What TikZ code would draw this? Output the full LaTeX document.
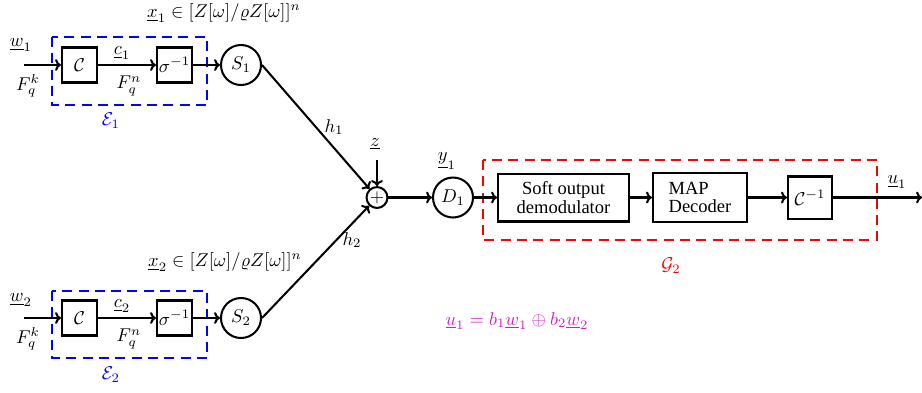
\documentclass[tikz,border=0pt]{standalone}
\usepackage{fontspec}
\newfontfamily\tnr{Liberation Serif}
\usetikzlibrary{arrows.meta}
\definecolor{mag}{RGB}{205,30,205}
\begin{document}
\begin{tikzpicture}[x=0.54pt,y=-0.54pt, line width=1.1pt,
  >={To[length=3.2pt,width=6.4pt]},
  blk/.style={draw, rectangle, inner sep=0pt},
  sbox/.style={blk, minimum width=18.9pt, minimum height=18.9pt},
  circ/.style={draw, circle, inner sep=0pt, minimum size=21.6pt},
  grp/.style={line width=1.5pt, dash pattern=on 5.4pt off 3.4pt},
  lbl/.style={inner sep=0pt}]
\useasboundingbox (0,0) rectangle (922,392);

% ---- top encoder
\coordinate (in1) at (24,65);
\node[sbox] (C1) at (79.5,65) {$\mathcal{C}$};
\node[sbox] (P1) at (174.5,65) {$\sigma^{-1}$};
\node[circ] (S1) at (241,65) {$S_1$};
\draw[grp, blue] (52,37) rectangle (207,105);
\draw[->] (in1) -- (C1);
\draw[->] (C1) -- (P1);
\draw[->] (P1) -- (S1);
\node[lbl] (w1) at (21,45) {$\underline{w}_1$};
\node[lbl] (fk1) at (28,86) {$F_q^k$};
\node[lbl] (c1) at (122,53) {$\underline{c}_1$};
\node[lbl] (fn1) at (129,86) {$F_q^n$};
\node[lbl, text=blue] (E1) at (111,121) {$\mathcal{E}_1$};
\node[lbl] (x1) at (224,13) {$\underline{x}_1\in[Z[\omega]/\varrho Z[\omega]]^n$};

% ---- bottom encoder
\coordinate (in2) at (24,318);
\node[sbox] (C2) at (79.5,318) {$\mathcal{C}$};
\node[sbox] (P2) at (174.5,318) {$\sigma^{-1}$};
\node[circ] (S2) at (241,318) {$S_2$};
\draw[grp, blue] (52,291) rectangle (207,358);
\draw[->] (in2) -- (C2);
\draw[->] (C2) -- (P2);
\draw[->] (P2) -- (S2);
\node[lbl] (w2) at (21,300) {$\underline{w}_2$};
\node[lbl] (fk2) at (28,339) {$F_q^k$};
\node[lbl] (c2) at (122,306) {$\underline{c}_2$};
\node[lbl] (fn2) at (129,339) {$F_q^n$};
\node[lbl, text=blue] (E2) at (111,375) {$\mathcal{E}_2$};
\node[lbl] (x2) at (225,262) {$\underline{x}_2\in[Z[\omega]/\varrho Z[\omega]]^n$};

% ---- channel
\node[draw, circle, inner sep=0pt, minimum size=11.3pt] (add) at (377,197.5) {$+$};
\coordinate (zin) at (377,160);
\node[lbl] (z) at (375,144) {$\underline{z}$};
\draw[->] (S1.east) -- (add);
\draw[->] (S2.east) -- (add);
\draw[->] (zin) -- (add);
\node[lbl] (h1) at (334,127) {$h_1$};
\node[lbl] (h2) at (352,240) {$h_2$};
\node[circ] (D1) at (453,197.5) {$D_1$};
\node[lbl] (y1) at (447,161) {$\underline{y}_1$};
\draw[->] (add) -- (D1);

% ---- decoder
\node[blk, minimum width=70.7pt, minimum height=25.9pt, align=center, font=\tnr] (soft) at (563.5,197.5) {Soft output\\[-2pt]demodulator};
\node[blk, minimum width=50.8pt, minimum height=26.5pt, align=left, font=\tnr] (map) at (700,197.5) {MAP\\[-2pt]Decoder};
\node[blk, minimum width=23.8pt, minimum height=22.7pt] (cinv) at (810,197.5) {$\mathcal{C}^{-1}$};
\coordinate (out) at (922,197.5);
\draw[grp, red] (483,160) rectangle (877,240);
\draw[->] (D1) -- (soft);
\draw[->] (soft) -- (map);
\draw[->] (map) -- (cinv);
\draw[->] (cinv) -- (out);
\node[lbl] (u1) at (897,182) {$\underline{u}_1$};
\node[lbl, text=red] (G2) at (671,266) {$\mathcal{G}_2$};
\node[lbl, text=mag] (eq) at (517,321) {$\underline{u}_1=b_1\underline{w}_1\oplus b_2\underline{w}_2$};
\end{tikzpicture}
\end{document}
